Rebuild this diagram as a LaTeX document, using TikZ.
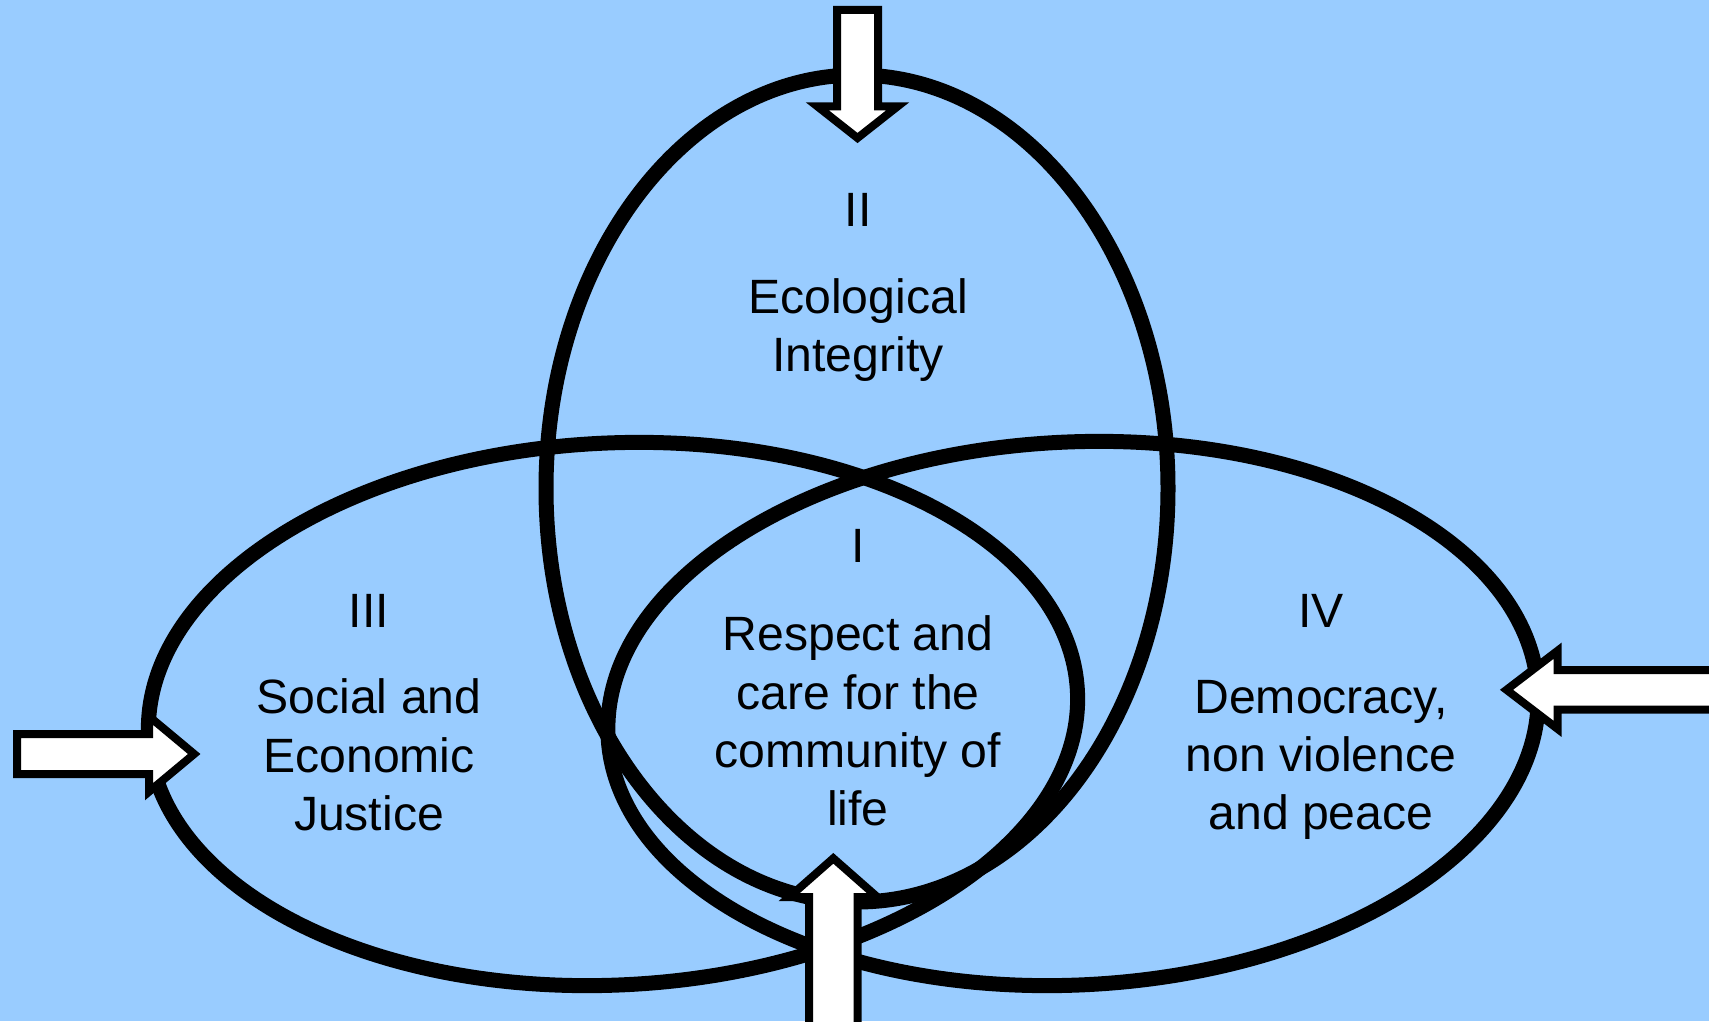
\documentclass[tikz,border=0pt]{standalone}
\usepackage{fontspec}
\setmainfont{Liberation Sans}
\usepackage{xcolor}
\definecolor{SkyBlue}{HTML}{99CCFF}
\usetikzlibrary{shapes.geometric}
\tikzset{
  % Ring styles
  vennring/.style={ellipse, draw=black, line width=1.5mm, inner sep=0pt},
  % Text styles
  areatext/.style={font=\fontsize{13.7}{16.6}\selectfont, align=center, inner sep=0pt},
  % Arrow styles
  blockarrow/.style={draw=black, fill=white, line width=0.8mm}
}

\begin{document}
\begin{tikzpicture}
  \useasboundingbox (0,0) rectangle (17.09,10.21);
  \fill[SkyBlue] (0,0) rectangle (17.09,10.21);

  % the three rings
  \node[vennring, minimum width=6.22cm, minimum height=8.27cm] (eco) at (8.57,5.325) {};
  \node[vennring, minimum width=9.30cm, minimum height=5.42cm, rotate=2.8] (social) at (6.13,3.07) {};
  \node[vennring, minimum width=9.31cm, minimum height=5.43cm, rotate=2.8] (democracy) at (10.73,3.075) {};

  % labels
  \node[areatext] (ecoNum) at (8.58,8.11) {II};
  \node[areatext] (ecoText) at (8.58,6.91) {Ecological\\Integrity};
  \node[areatext] (careNum) at (8.58,4.75) {I};
  \node[areatext] (careText) at (8.58,3.00) {Respect and\\care for the\\community of\\life};
  \node[areatext] (socialNum) at (3.69,4.10) {III};
  \node[areatext] (socialText) at (3.69,2.66) {Social and\\Economic\\Justice};
  \node[areatext] (democracyNum) at (13.21,4.10) {IV};
  \node[areatext] (democracyText) at (13.21,2.61) {Democracy,\\non violence\\and peace};

  % block arrows pointing in
  \draw[blockarrow] (8.37,10.11) -- (8.78,10.11) -- (8.78,9.145) -- (8.975,9.145) -- (8.575,8.83) -- (8.175,9.145) -- (8.37,9.145) -- cycle;
  \draw[blockarrow] (0.17,2.87) -- (1.49,2.87) -- (1.49,3.047) -- (1.942,2.67) -- (1.49,2.293) -- (1.49,2.47) -- (0.17,2.47) -- cycle;
  \draw[blockarrow] (17.3,3.51) -- (15.575,3.51) -- (15.575,3.702) -- (15.065,3.312) -- (15.575,2.922) -- (15.575,3.114) -- (17.3,3.114) -- cycle;
  \draw[blockarrow] (8.09,-0.1) -- (8.09,1.24) -- (7.893,1.24) -- (8.333,1.627) -- (8.773,1.24) -- (8.576,1.24) -- (8.576,-0.1) -- cycle;
\end{tikzpicture}
\end{document}
